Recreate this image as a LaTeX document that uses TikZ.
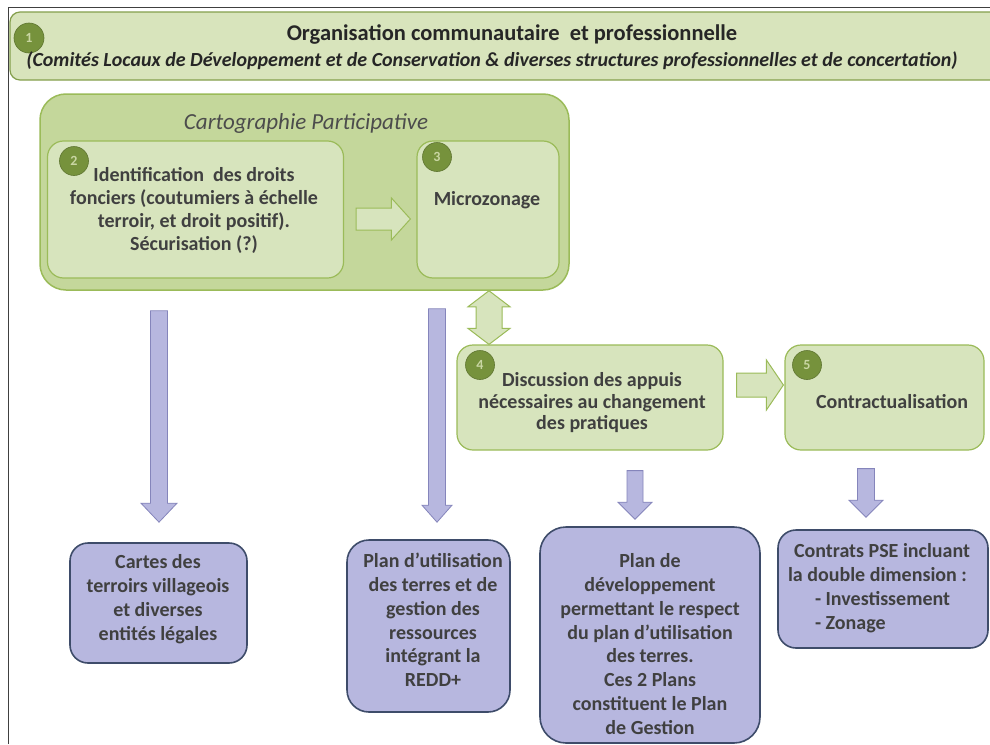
\documentclass[tikz,border=0pt]{standalone}
\usepackage{fontspec}
\setmainfont{Carlito}
\usetikzlibrary{calc}
\definecolor{bannerfill}{HTML}{D8E4BC}
\definecolor{greenline}{HTML}{9BBB59}
\definecolor{cartfill}{HTML}{C4D79B}
\definecolor{boxfill}{HTML}{D7E4BD}
\definecolor{circfill}{HTML}{76923C}
\definecolor{circtext}{HTML}{C9D6A3}
\definecolor{purplefill}{HTML}{B7B7DF}
\definecolor{purpleline}{HTML}{3E4C6A}
\definecolor{parrowline}{HTML}{8585BB}
\definecolor{txt}{HTML}{404040}
\newcommand\vdown[6]{\draw[#1] let \p1=(#2), \p2=(#3) in (\x1-#4,\y1) -- (\x1+#4,\y1) -- (\x1+#4,\y2+#6) -- (\x1+#5,\y2+#6) -- (\x1,\y2) -- (\x1-#5,\y2+#6) -- (\x1-#4,\y2+#6) -- cycle;}
\newcommand\hright[6]{\draw[#1] let \p1=(#2), \p2=(#3) in (\x1,\y1-#4) -- (\x2-#6,\y1-#4) -- (\x2-#6,\y1-#5) -- (\x2,\y1) -- (\x2-#6,\y1+#5) -- (\x2-#6,\y1+#4) -- (\x1,\y1+#4) -- cycle;}
\newcommand\vdouble[6]{\draw[#1] let \p1=(#2), \p2=(#3) in (\x1,\y1) -- (\x1+#5,\y1-#6) -- (\x1+#4,\y1-#6) -- (\x1+#4,\y2+#6) -- (\x1+#5,\y2+#6) -- (\x1,\y2) -- (\x1-#5,\y2+#6) -- (\x1-#4,\y2+#6) -- (\x1-#4,\y1-#6) -- (\x1-#5,\y1-#6) -- cycle;}
\begin{document}
\begin{tikzpicture}[x=1pt,y=-1pt,
  greenbox/.style={draw=greenline,line width=1.2pt,fill=boxfill,rounded corners=16pt,inner sep=0pt},
  purplebox/.style={draw=purpleline,line width=1.6pt,fill=purplefill,rounded corners=18pt,inner sep=0pt},
  numcirc/.style={circle,fill=circfill,draw=circfill!80!black,line width=0.6pt,minimum size=29pt,inner sep=0pt,text=circtext,font=\fontsize{14}{14}\selectfont\bfseries},
  boxtext/.style={text=txt,align=center,font=\fontsize{20}{23}\selectfont\bfseries},
  ptext/.style={text=txt,align=center,font=\fontsize{20}{23.8}\selectfont\bfseries},
  parrow/.style={draw=parrowline,line width=0.8pt,fill=purplefill},
  garrow/.style={draw=greenline,line width=1pt,fill=boxfill}]
\useasboundingbox (0,0) rectangle (990,744);
\fill[white] (0,0) rectangle (990,744);
% frame
\draw[line width=1pt,black!75] (8,744) -- (8,7) -- (990,7);
% banner
\node[draw=greenline!85!black,line width=1.2pt,fill=bannerfill,rounded corners=10pt,minimum width=990pt,minimum height=68pt,inner sep=0pt] (banner) at (505,46) {};
\node[numcirc,minimum size=30pt] (n1) at (29,38) {1};
\node[text=black!85,font=\fontsize{22.5}{22.5}\selectfont\bfseries] (title) at (512,34) {Organisation communautaire\ \ et professionnelle};
\node[text=black!85,font=\fontsize{20}{20}\selectfont\bfseries\itshape] (subtitle) at (492,61) {(Comités Locaux de Développement et de Conservation \& diverses structures professionnelles et de concertation)};
% cartographie container
\node[draw=greenline,line width=1.5pt,fill=cartfill,rounded corners=26pt,minimum width=529pt,minimum height=196pt,inner sep=0pt] (cart) at (304.5,192) {};
\node[text=black!70,font=\fontsize{23}{23}\selectfont\itshape] (carttitle) at (306,123) {Cartographie Participative};
\node[greenbox,minimum width=296pt,minimum height=137pt] (b2) at (195.5,209.5) {};
\node[greenbox,minimum width=142pt,minimum height=137pt] (b3) at (488,209.5) {};
\node[numcirc] (n2) at (74,161) {2};
\node[numcirc] (n3) at (437,157) {3};
\node[boxtext] (t2) at (194,210) {Identification\ \ des droits\\fonciers (coutumiers à échelle\\terroir, et droit positif).\\Sécurisation (?)};
\node[boxtext] (t3) at (487,200) {Microzonage};
% step 4 and 5
\node[greenbox,minimum width=266pt,minimum height=105pt] (b4) at (590,397.5) {};
\node[greenbox,minimum width=199pt,minimum height=105pt] (b5) at (884.5,397.5) {};
\node[numcirc] (n4) at (480,365) {4};
\node[numcirc] (n5) at (807,365) {5};
\node[boxtext,font=\fontsize{20}{21.5}\selectfont\bfseries] (t4) at (592,403) {Discussion des appuis\\nécessaires au changement\\des pratiques};
\node[boxtext] (t5) at (892,402) {Contractualisation};
% bottom boxes
\node[purplebox,minimum width=177pt,minimum height=120pt] (bA) at (158.5,603) {};
\node[purplebox,minimum width=163pt,minimum height=172pt,rounded corners=22pt] (bB) at (428.5,626) {};
\node[purplebox,minimum width=220pt,minimum height=216pt,rounded corners=26pt] (bC) at (650,635) {};
\node[purplebox,minimum width=210pt,minimum height=118pt] (bD) at (883,589) {};
\node[ptext] (tA) at (158,599) {Cartes des\\terroirs villageois\\et diverses\\entités légales};
\node[ptext] (tB) at (433,620) {Plan d’utilisation\\des terres et de\\gestion des\\ressources\\intégrant la\\REDD+};
\node[ptext] (tC) at (650,644) {Plan de\\développement\\permettant le respect\\du plan d’utilisation\\des terres.\\Ces 2 Plans\\constituent le Plan\\de Gestion};
\node[ptext,align=left] (tD) at (879,588) {\hspace*{6pt}Contrats PSE incluant\\la double dimension :\\\hspace*{27pt}- Investissement\\\hspace*{27pt}- Zonage};
% columns for arrows
\coordinate (colA) at (159,0);
\coordinate (colB) at (437,0);
\coordinate (colD) at (489,0);
\coordinate (colC) at (635,0);
\coordinate (colE) at (866,0);
\coordinate (rowR) at (0,219);
\coordinate (rowS) at (0,385);
% purple arrows
\vdown{parrow}{$(cart.south -| colA)+(0,20)$}{$(bA.north -| colA)+(0,-20)$}{8.5pt}{18pt}{19pt}
\vdown{parrow}{$(cart.south -| colB)+(0,18)$}{$(bB.north -| colB)+(0,-17)$}{8.5pt}{15pt}{17pt}
\vdown{parrow}{$(b4.south -| colC)+(0,20)$}{$(bC.north -| colC)+(0,-7)$}{8pt}{17pt}{17pt}
\vdown{parrow}{$(b5.south -| colE)+(0,18)$}{$(bD.north -| colE)+(0,-12)$}{8.5pt}{17pt}{17pt}
% green arrows
\hright{garrow}{$(b2.east |- rowR)+(12,0)$}{$(b3.west |- rowR)+(-6,0)$}{11pt}{21pt}{19pt}
\hright{garrow}{$(b4.east |- rowS)+(13,0)$}{$(b5.west |- rowS)+(-1,0)$}{12pt}{25pt}{17pt}
\vdouble{garrow}{cart.south -| colD}{b4.north -| colD}{13pt}{21pt}{16pt}
\end{tikzpicture}
\end{document}
